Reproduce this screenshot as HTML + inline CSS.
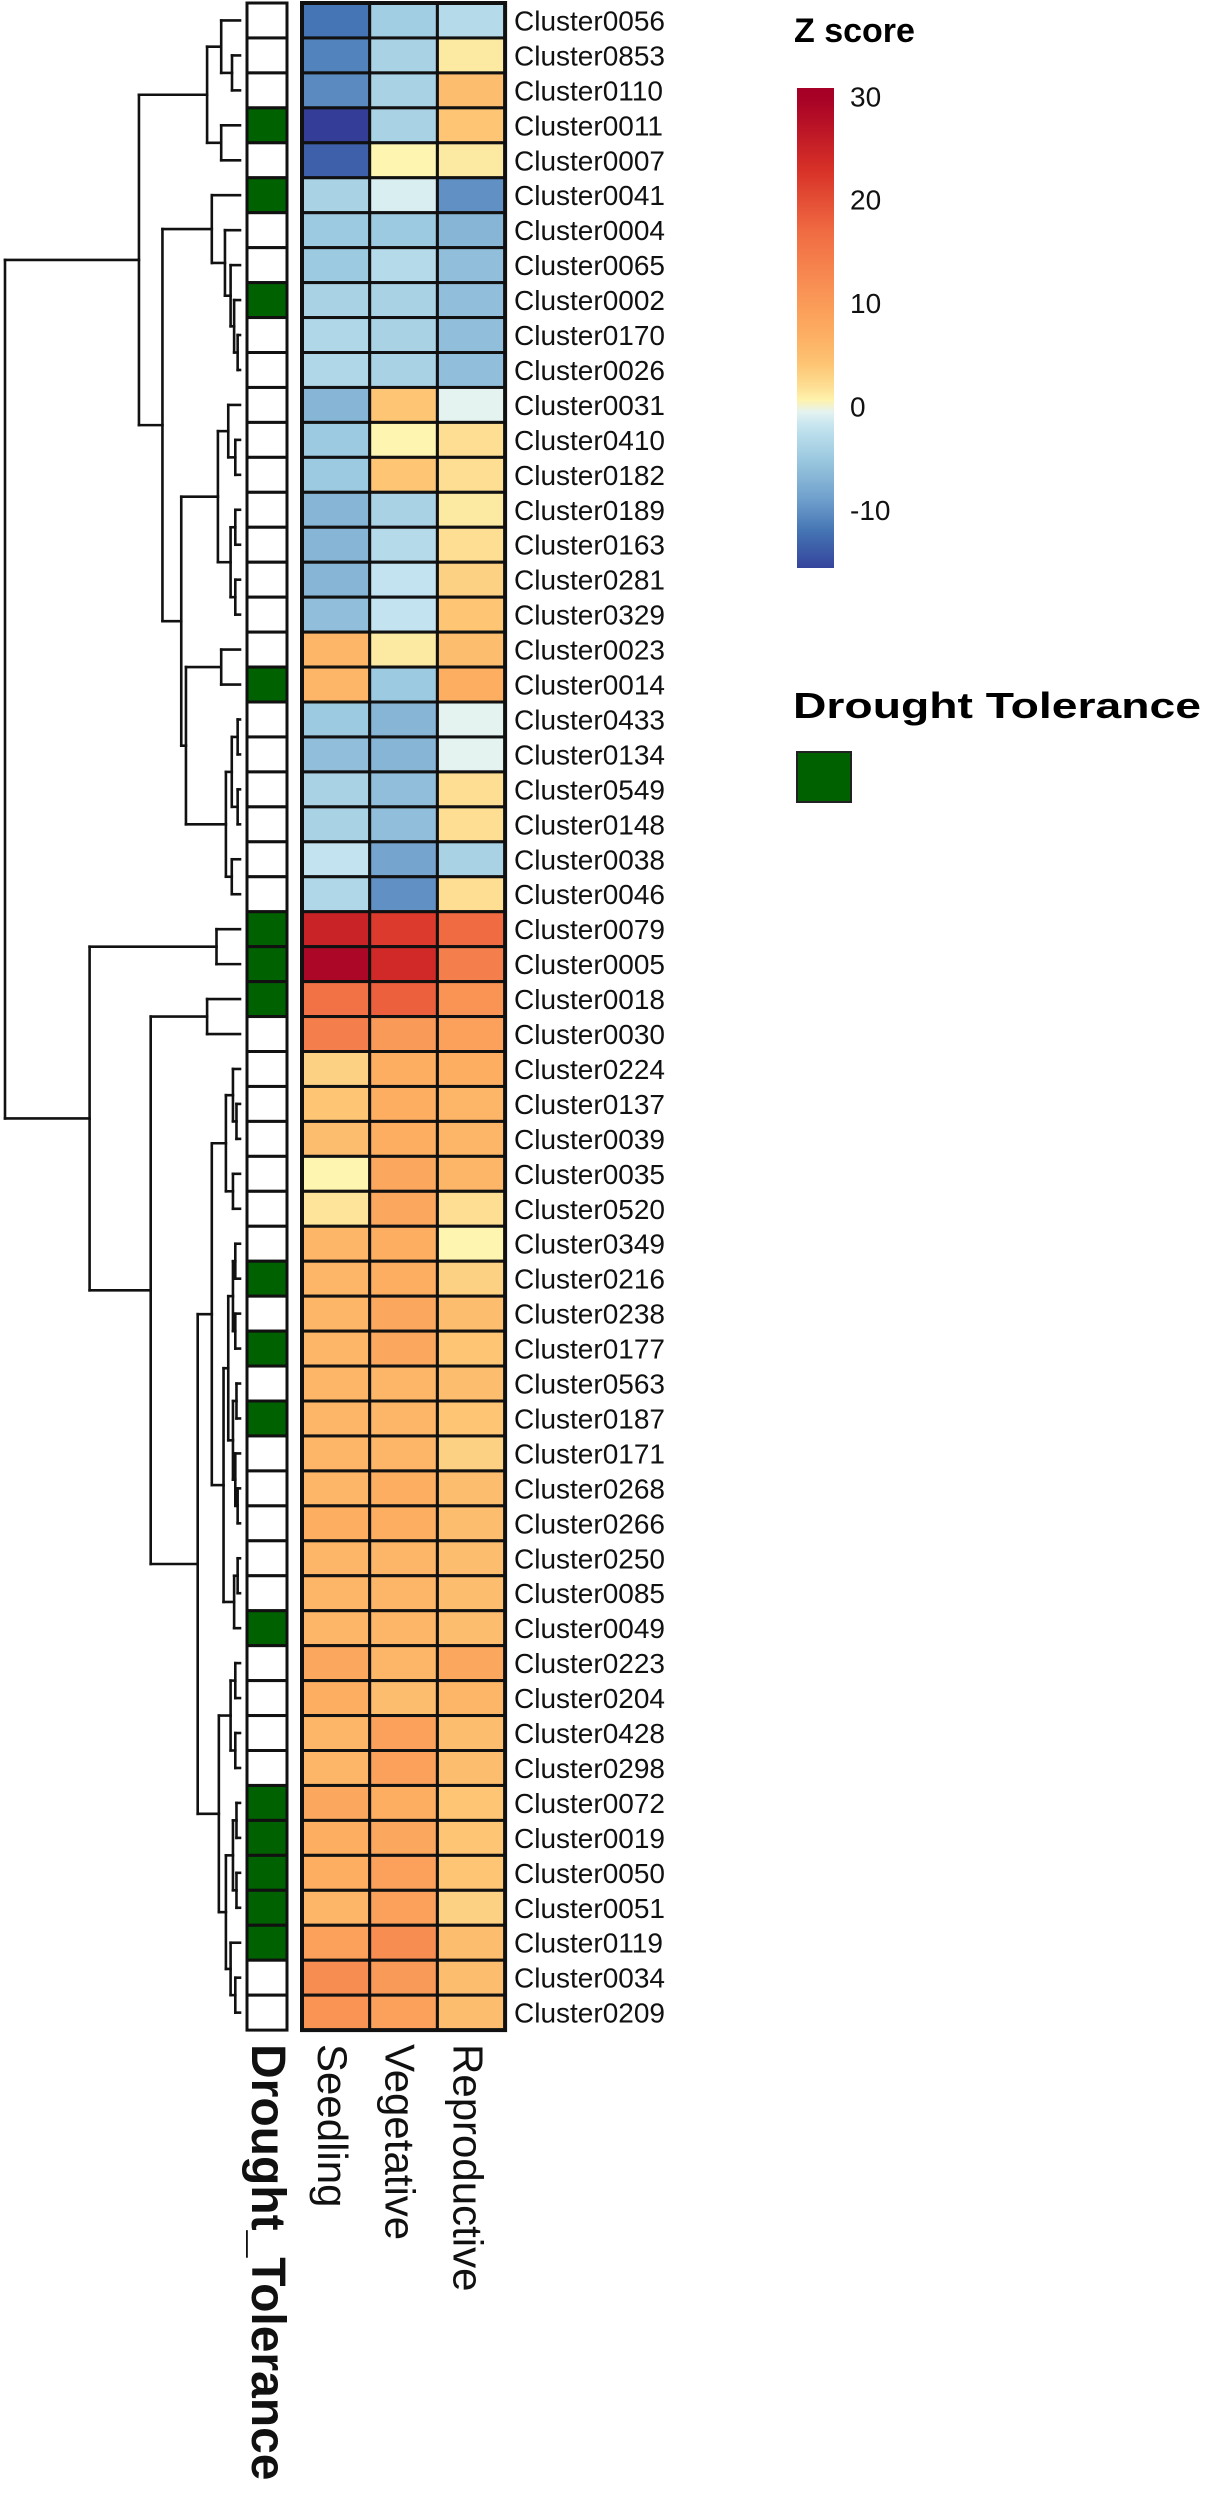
<!DOCTYPE html>
<html><head><meta charset="utf-8"><style>
html,body{margin:0;padding:0;background:#fff}
svg{display:block}
text{font-family:"Liberation Sans",Arial,sans-serif}
</style></head><body>
<svg id="chart" width="1205" height="2500" viewBox="0 0 1205 2500" xmlns="http://www.w3.org/2000/svg">
<defs><linearGradient id="zgrad" x1="0" y1="0" x2="0" y2="1"></linearGradient></defs>
<g id="dendro"></g>
<g id="annot"></g>
<g id="heat"></g>
<g id="rowlabels"></g>
<g id="collabels"></g>
<g id="legend">
  <text x="794" y="42" font-size="34" font-weight="bold">Z score</text>
  <rect id="cbar" x="797" y="88" width="37" height="480" fill="url(#zgrad)"></rect>
  <g id="cticks"></g>
  <text x="793" y="718" font-size="36" font-weight="bold" textLength="408" lengthAdjust="spacingAndGlyphs">Drought Tolerance</text>
  <rect x="797" y="752" width="54" height="50" fill="#006100" stroke="#222" stroke-width="2"></rect>
</g>
</svg>
<script>
const categories = ['Seedling','Vegetative','Reproductive'];
const clusters = ['Cluster0056','Cluster0853','Cluster0110','Cluster0011','Cluster0007','Cluster0041','Cluster0004','Cluster0065','Cluster0002','Cluster0170','Cluster0026','Cluster0031','Cluster0410','Cluster0182','Cluster0189','Cluster0163','Cluster0281','Cluster0329','Cluster0023','Cluster0014','Cluster0433','Cluster0134','Cluster0549','Cluster0148','Cluster0038','Cluster0046','Cluster0079','Cluster0005','Cluster0018','Cluster0030','Cluster0224','Cluster0137','Cluster0039','Cluster0035','Cluster0520','Cluster0349','Cluster0216','Cluster0238','Cluster0177','Cluster0563','Cluster0187','Cluster0171','Cluster0268','Cluster0266','Cluster0250','Cluster0085','Cluster0049','Cluster0223','Cluster0204','Cluster0428','Cluster0298','Cluster0072','Cluster0019','Cluster0050','Cluster0051','Cluster0119','Cluster0034','Cluster0209'];
const seedling = [-12,-11,-10.5,-16,-13.5,-4,-5,-5,-4,-3.5,-3.5,-7,-5,-5,-7,-7,-7,-6,6,6,-5,-6,-4,-4,-2,-3.5,25,29,16,14,3,4,5,0.5,1.5,6,6,6,6,6,6,6,6,7,6,6,6,8,7,6,6,8,7,7,6,9,12,11];
const vegetative = [-4.5,-4,-4,-4,0.5,-1,-5,-3,-4,-4,-4,4,0.5,4,-4,-3,-2,-2,1,-5,-7,-7,-6,-6,-8.5,-10,22,24,18,10,7,7,7,8,8,7,7,8,8,6,6,6,7,7,6,6,6,6,5,9,9,7,8,9,9,12,10,9];
const reproductive = [-3,1,5,4,1,-10,-7,-6,-6,-6,-6,-0.5,2,2,1,2,3,4,5,7,-0.5,-0.5,2,2,-4,2,17,14,11,9,7,6,6,6,2,0.5,3,5,4,5,4,3,5,5,5,5,5,8,6,5,5,4,4,4,3,5,5,5];
const drought = [0,0,0,1,0,1,0,0,1,0,0,0,0,0,0,0,0,0,0,1,0,0,0,0,0,0,1,1,1,0,0,0,0,0,0,0,1,0,1,0,1,0,0,0,0,0,1,0,0,0,0,1,1,1,1,1,0,0];
const colorTicks = [30,20,10,0,-10];
// dendrogram: [left, right, mergeHeight]
const treeA = [[0,[1,2,3.4],8],[3,4,8],14];
const treeB = [5,[6,[7,[8,[9,10,1],2.5],4],6.4],12];
const treeC = [[11,[12,13,2],5],[[14,15,2],[16,17,2],4],9.4];
const treeDE = [[18,19,8],[[[20,21,1],[22,23,1],3.5],[24,25,3.5],6],23];
const treeM = [[[[30,[31,32,1.5],3],[33,34,3],6],[[[[35,36,2],[37,38,2],3],[[39,40,1.5],[41,[42,43,1],2],3],5],[[44,45,1],46,2.5],7],12],[[[47,48,2],[49,50,2],4],[[[51,52,1.5],[53,54,1.5],3],[55,[56,57,2],4],6],9],18];
const tree = [[treeA,[treeB,[treeC,treeDE,25],33],43],[[26,27,10],[[28,29,14],treeM,38],64],100];

const NS='http://www.w3.org/2000/svg';
const rowTop=3, rowH=34.95, heatX=302, colW=67.7, annX=247, annW=40;
const yRow=i=>rowTop+i*rowH;
const xCol=j=>heatX+j*colW;
const leafX=240, dScale=2.35;
const xDend=h=>leafX-h*dScale;
const zTop=30.8, zBot=-15.6, cbY=88, cbH=480;
const yZ=v=>cbY+(zTop-v)/(zTop-zBot)*cbH;
const stops=[[-16.6,'#313695'],[-12,'#4575b4'],[-9,'#6f9fcc'],[-5,'#9ccae0'],[-2,'#c2e3ef'],[-0.5,'#e4f3f0'],[0,'#ffffbf'],[1,'#fdeaa2'],[4,'#fdc574'],[7,'#fdae61'],[12,'#f88d52'],[17,'#f06a42'],[23,'#d73027'],[30,'#a50026'],[31,'#a50026']];
function hex(c){return [1,3,5].map(i=>parseInt(c.substr(i,2),16));}
function color(v){
  if(v<=stops[0][0])return stops[0][1];
  for(let i=1;i<stops.length;i++){
    if(v<=stops[i][0]){
      const [a,ca]=stops[i-1],[b,cb]=stops[i];const t=(v-a)/(b-a);
      const A=hex(ca),B=hex(cb);
      return 'rgb('+A.map((x,k)=>Math.round(x+(B[k]-x)*t)).join(',')+')';
    }
  }
  return stops[stops.length-1][1];
}
function el(tag,attrs,parent){const e=document.createElementNS(NS,tag);for(const k in attrs)e.setAttribute(k,attrs[k]);parent.appendChild(e);return e;}

// gradient
const grad=document.getElementById('zgrad');
for(let k=0;k<=40;k++){
  const v=zTop-(zTop-zBot)*k/40;
  el('stop',{offset:(k/40).toFixed(4),'stop-color':color(v)},grad);
}

// heatmap
const heat=document.getElementById('heat');
const series=[seedling,vegetative,reproductive];
clusters.forEach((c,i)=>{
  series.forEach((s,j)=>{
    const r=el('rect',{x:xCol(j),y:yRow(i),width:colW,height:rowH,fill:color(s[i]),stroke:'#111','stroke-width':3},heat);
    
    
  });
});
const hb=el('rect',{x:heatX,y:rowTop,width:colW*3,height:rowH*clusters.length,fill:'none',stroke:'#111','stroke-width':4},heat);



// annotation
const annot=document.getElementById('annot');
drought.forEach((d,i)=>{
  const r=el('rect',{x:annX,y:yRow(i),width:annW,height:rowH,fill:d?'#006100':'#fff',stroke:'#111','stroke-width':3},annot);
  
  
});

// row labels
const rl=document.getElementById('rowlabels');
clusters.forEach((c,i)=>{
  const t=el('text',{x:514,y:yRow(i)+rowH/2+10,'font-size':28,fill:'#111'},rl);
  t.textContent=c;
  
  
});

// column labels
const cl=document.getElementById('collabels');
categories.forEach((c,j)=>{
  const x=xCol(j)+colW/2-18;
  const t=el('text',{x:0,y:0,'font-size':42,fill:'#111',transform:'translate('+x+',2044) rotate(90)'},cl);
  t.textContent=c;
  
  
});
const dt=el('text',{x:0,y:0,'font-size':48,'font-weight':'bold',fill:'#111',transform:'translate('+(annX+5)+',2044) rotate(90)'},cl);
dt.textContent='Drought_Tolerance';



// colorbar ticks
const ct=document.getElementById('cticks');
colorTicks.forEach(v=>{
  const t=el('text',{x:850,y:yZ(v)+10,'font-size':28,fill:'#111'},ct);
  t.textContent=String(v);
  
  
});

// dendrogram
const dg=document.getElementById('dendro');
function line(x1,y1,x2,y2){
  const l=el('line',{x1,y1,x2,y2,stroke:'#111','stroke-width':2.6,'stroke-linecap':'square'},dg);
  
  
}
function draw(n){
  if(typeof n==='number')return {x:leafX,y:yRow(n)+rowH/2};
  const a=draw(n[0]),b=draw(n[1]);const x=xDend(n[2]);
  line(x,a.y,a.x,a.y);line(x,b.y,b.x,b.y);line(x,a.y,x,b.y);
  return {x,y:(a.y+b.y)/2};
}
draw(tree);
</script>
</body></html>
